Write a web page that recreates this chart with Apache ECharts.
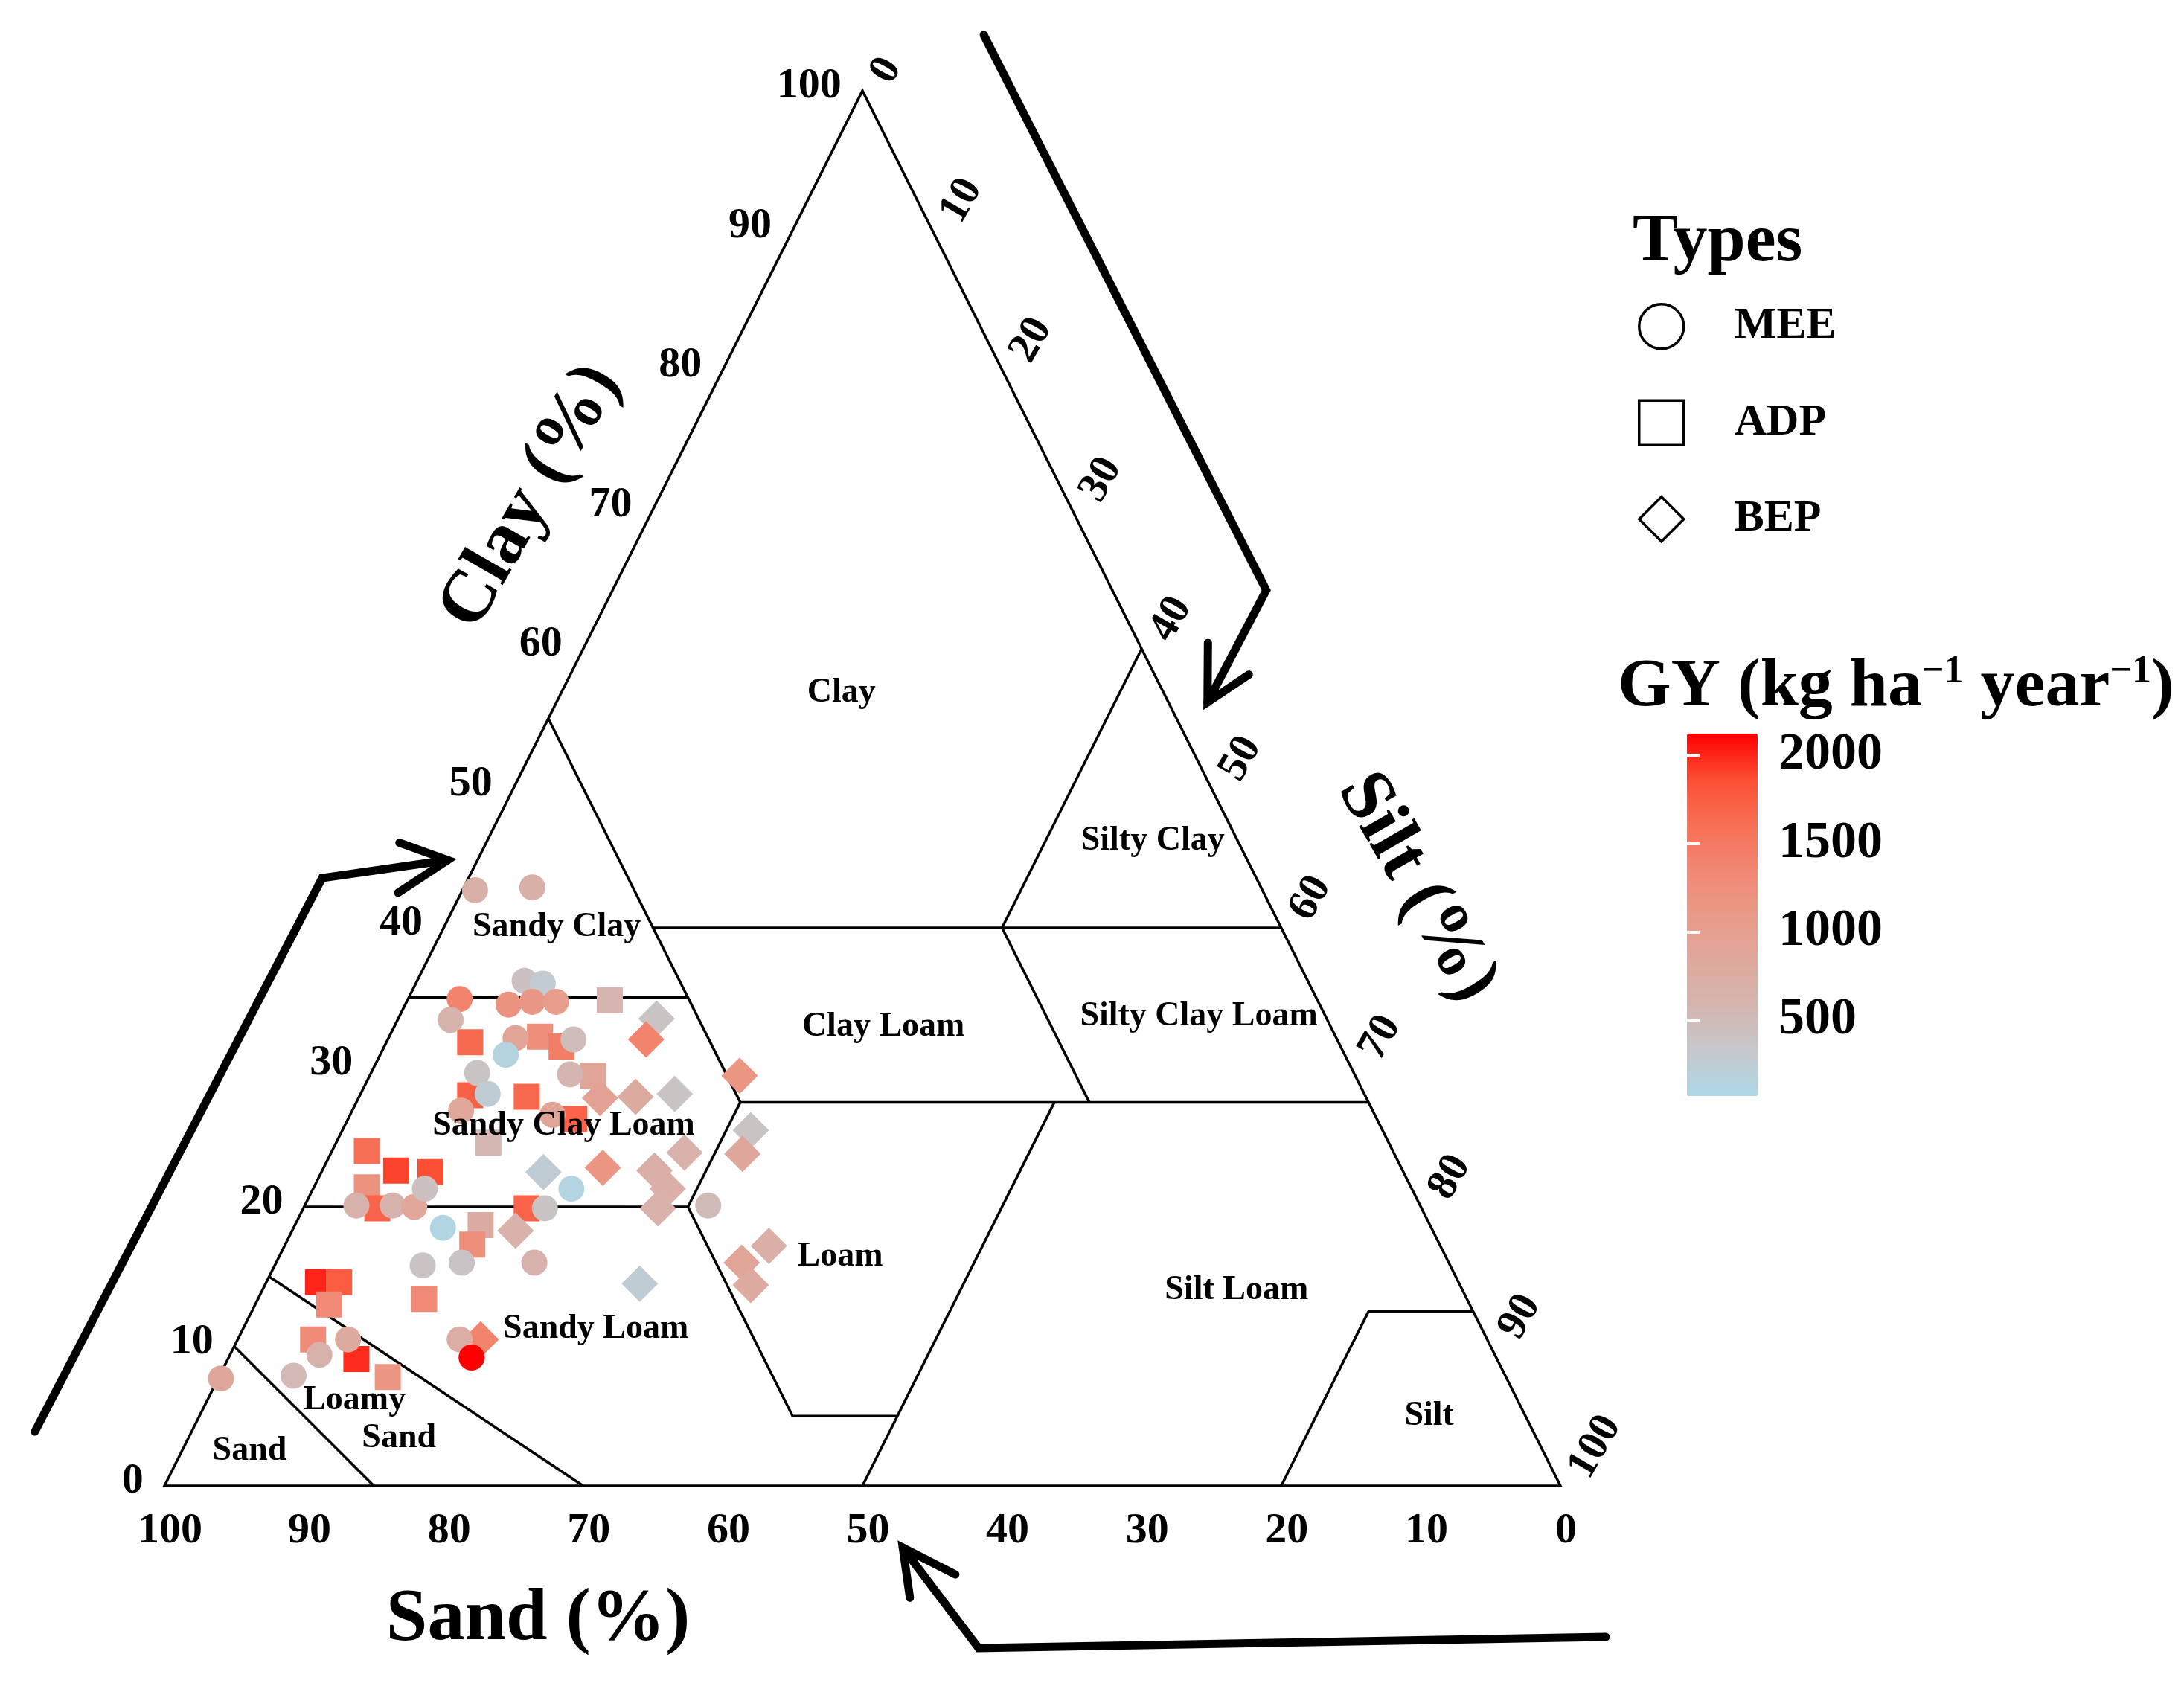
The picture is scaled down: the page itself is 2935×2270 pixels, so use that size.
<!DOCTYPE html>
<html><head><meta charset="utf-8">
<script src="https://cdn.jsdelivr.net/npm/echarts@6/dist/echarts.min.js"></script>
<style>html,body{margin:0;padding:0;background:#fff}#c{width:2935px;height:2270px}</style>
</head><body><div id="c"></div>
<script>
// ---------------- data ----------------
const ticks = [0,10,20,30,40,50,60,70,80,90,100];
const colorbarTicks = [500,1000,1500,2000];
const gyRange = [69, 2123];
// points: [sand %, clay %, GY kg ha-1 yr-1]
const MEE = [
 [56.4,42.7,680],[52.2,42.9,690],[56.1,36.2,420],[54.9,36.0,280],[61.4,34.9,1400],[62.8,33.4,620],
 [58.1,34.5,1200],[56.3,34.7,1130],[54.6,34.7,1050],[58.8,32.1,900],[54.7,32.0,480],[60.1,30.9,150],
 [62.8,29.6,400],[62.8,28.1,260],[56.2,29.5,580],[65.3,26.9,860],[58.9,26.6,900],
 [60.2,21.3,120],[51.0,20.1,500],[62.8,19.9,400],[70.8,18.5,110],[70.7,16.0,390],[65.5,16.0,640],
 [73.6,10.5,750],[73.4,9.2,2123],
 [76.2,20.1,640],[73.6,20.1,620],[72.1,20.0,860],[70.7,21.3,440],[73.6,15.8,410],[84.2,9.4,640],
 [81.6,10.5,800],[86.8,7.9,540],[92.1,7.7,850]
];
const ADP = [
 [50.7,34.8,600],[62.2,31.8,1650],[57.0,32.2,1250],[55.8,31.5,1450],[64.1,28.0,1720],[60.1,27.9,1650],
 [54.6,29.4,900],[57.5,26.3,1700],[64.5,24.6,560],
 [64.1,19.9,1700],[68.0,18.7,760],[69.3,17.3,1250],
 [73.5,24.0,1600],[72.1,22.6,1900],[69.7,22.5,1850],[74.8,21.4,1200],[74.8,19.9,1700],[74.7,13.4,1330],
 [81.7,14.6,2000],[80.2,14.6,1750],[81.7,13.0,1330],[84.1,10.5,1300],[81.7,9.1,1980],[80.1,7.8,1150]
];
const BEP = [
 [48.0,33.5,400],[49.5,32.0,1400],[54.9,27.8,950],[52.3,27.9,800],[49.4,28.1,400],[44.1,29.4,1150],
 [45.25,25.5,400],
 [46.7,23.8,850],[61.6,22.5,260],[57.2,22.8,1150],[53.6,22.6,700],[50.8,23.9,650],[53.3,21.3,700],
 [54.7,19.9,650],[65.7,18.3,650],[58.7,14.5,260],[72.1,10.5,1400],[48.1,17.2,700],[50.65,16.0,900],
 [50.8,14.4,800]
];
// texture class boundaries, as [sand, clay] vertices
const boundaries = [
 [[100,0],[0,100],[0,0],[100,0],[0,100]],
 [[85,0],[90,10]],
 [[70,0],[85,15]],
 [[80,20],[52.5,20]],
 [[52.5,20],[52.5,5],[45,5]],
 [[50,0],[22.5,27.5]],
 [[52.5,20],[45,27.5]],
 [[45,27.5],[0,27.5]],
 [[65,35],[45,35]],
 [[45,27.5],[45,55]],
 [[45,40],[0,40]],
 [[20,27.5],[20,40]],
 [[20,40],[0,60]],
 [[20,0],[7.5,12.5]],
 [[7.5,12.5],[0,12.5]]
];
const classNames = ['Clay','Silty Clay','Sandy Clay','Clay Loam','Silty Clay Loam','Sandy Clay Loam',
 'Loam','Silt Loam','Sandy Loam','Loamy','Sand','Sand','Silt'];

// ---------------- layout (not data) ----------------
const SERIF = '"Liberation Serif", "Times New Roman", serif';
const classLabelPos = [[48.5,56.8],[70.8,46.2],[28.1,40.0],[51.5,32.9],[74.1,33.6],[28.6,25.8],
 [48.4,16.4],[76.8,14.0],[30.9,11.2],[13.6,6.1],[16.8,3.4],[6.1,2.5],[90.6,5.0]];
const arrowShafts = [
 [[-9.28,3.89],[11.30,43.57],[20.29,44.85]],
 [[58.69,104.0],[78.93,64.2],[74.72,56.16]],
 [[103.25,-10.83],[58.32,-11.63],[52.89,-4.43]]
];
const arrowHeads = [
 [[16.83,46.10],[20.29,44.85],[16.74,42.51]],
 [[74.75,60.43],[74.72,56.16],[77.68,58.15]],
 [[53.40,-8.02],[52.89,-4.43],[56.66,-6.35]]
];

// ternary (sand, clay) -> cartesian (x, clay)
function toXY(sand, clay){ return [100 - sand - clay/2, clay]; }
const pts = arr => arr.map(d => [...toXY(d[0], d[1]), d[2]]);

const chart = echarts.init(document.getElementById('c'));
const txt = {color:'#000', fontFamily:SERIF, fontWeight:'bold', textBorderWidth:0, textShadowBlur:0};
function labelSeries(name, data, label){
  return {type:'scatter', name, symbolSize:1, silent:true, clip:false, z:6,
    itemStyle:{color:'rgba(0,0,0,0)'}, data, emphasis:{disabled:true},
    label:Object.assign({show:true, position:'top', distance:0, formatter:'{b}', opacity:1}, txt, label)};
}
const ptStyle = {opacity:1};
const tickStyle = {show:true, inside:true, length:17, lineStyle:{color:'#fff', width:4}, customValues:colorbarTicks};

const option = {
  animation:false,
  backgroundColor:'#fff',
  grid:[
    {left:221, top:122, width:1876, height:1875, outerBoundsMode:'none'},
    {left:2267, top:986, width:95, height:487, outerBoundsMode:'none'}
  ],
  xAxis:[
    {type:'value', gridIndex:0, min:0, max:100, show:false},
    {type:'value', gridIndex:1, min:0, max:1, show:false}
  ],
  yAxis:[
    {type:'value', gridIndex:0, min:0, max:100, show:false},
    {type:'value', gridIndex:1, min:gyRange[0], max:gyRange[1], position:'right', z:10,
      axisLine:{show:false}, splitLine:{show:false}, axisTick:tickStyle,
      axisLabel:Object.assign({customValues:colorbarTicks, margin:28, fontSize:70, formatter:v => String(v)}, txt)},
    {type:'value', gridIndex:1, min:gyRange[0], max:gyRange[1], position:'left', z:10,
      axisLine:{show:false}, splitLine:{show:false}, axisTick:tickStyle, axisLabel:{show:false}}
  ],
  visualMap:{
    type:'continuous', min:gyRange[0], max:gyRange[1], dimension:2, seriesIndex:[2,3,4],
    left:2267, top:986, itemWidth:95, itemHeight:487, padding:0, calculable:false, hoverLink:false,
    inRange:{color:['#add8e6','#c6c8cc','#d5b5b0','#dfa89c','#e99b89','#f18773','#f76f55','#fc4e33','#ff0000']}
  },
  legend:{
    orient:'vertical', left:2196, top:402, itemWidth:60, itemHeight:60, itemGap:66, selectedMode:false,
    textStyle:Object.assign({fontSize:60, padding:[0,0,0,63]}, txt),
    data:[
      {name:'MEE', icon:'circle', itemStyle:{color:'rgba(0,0,0,0)', borderColor:'#000', borderWidth:3.5}},
      {name:'ADP', icon:'rect', itemStyle:{color:'rgba(0,0,0,0)', borderColor:'#000', borderWidth:3.5}},
      {name:'BEP', icon:'diamond', itemStyle:{color:'rgba(0,0,0,0)', borderColor:'#000', borderWidth:3.5}}
    ]
  },
  graphic:[
    {type:'text', x:2194, y:326, style:{text:'Types', fontSize:92, fontFamily:SERIF, fontWeight:'bold', fill:'#000', align:'left', verticalAlign:'middle'}},
    {type:'text', x:2174, y:924, style:{
      text:'{m|GY (kg ha}{s|−1}{m| year}{s|−1}{m|)}', align:'left', verticalAlign:'middle', fill:'#000',
      fontFamily:SERIF, fontWeight:'bold', fontSize:92,
      rich:{m:{fontSize:92, lineHeight:92, fontFamily:SERIF, fontWeight:'bold', fill:'#000'},
            s:{fontSize:52, lineHeight:52, verticalAlign:'top', fontFamily:SERIF, fontWeight:'bold', fill:'#000'}}}},
    {type:'text', x:723, y:2177, style:{text:'Sand (%)', fontSize:100, fontFamily:SERIF, fontWeight:'bold', fill:'#000', align:'center', verticalAlign:'middle'}},
    {type:'text', x:714, y:668, rotation:Math.PI/3, style:{text:'Clay (%)', fontSize:100, fontFamily:SERIF, fontWeight:'bold', fill:'#000', align:'center', verticalAlign:'middle'}},
    {type:'text', x:1904, y:1193, rotation:-Math.PI/3, style:{text:'Silt (%)', fontSize:100, fontFamily:SERIF, fontWeight:'bold', fill:'#000', align:'center', verticalAlign:'middle'}}
  ],
  series:[
    {type:'lines', name:'boundaries', coordinateSystem:'cartesian2d', polyline:true, silent:true, clip:false, z:1,
      lineStyle:{color:'#000', width:3.5, opacity:1, join:'miter'},
      data:boundaries.map(seg => ({coords:seg.map(p => toXY(p[0], p[1]))}))},
    {type:'lines', name:'arrows', coordinateSystem:'cartesian2d', polyline:true, silent:true, clip:false, z:2,
      lineStyle:{color:'#000', width:11, opacity:1, cap:'round', join:'miter'},
      data:arrowShafts.concat(arrowHeads).map(c => ({coords:c}))},
    {type:'scatter', name:'ADP', symbol:'rect', symbolSize:35, z:3, itemStyle:ptStyle, data:pts(ADP)},
    {type:'scatter', name:'BEP', symbol:'diamond', symbolSize:49, z:3, itemStyle:ptStyle, data:pts(BEP)},
    {type:'scatter', name:'MEE', symbol:'circle', symbolSize:35, z:3, itemStyle:ptStyle, data:pts(MEE)},
    labelSeries('classes', classNames.map((n,i) => ({name:n, value:classLabelPos[i]})),
      {fontSize:46, align:'center', verticalAlign:'middle'}),
    labelSeries('clayTicks', ticks.map(c => ({name:String(c), value:[c/2 - 1.5, c + 0.27]})),
      {fontSize:58, align:'right', verticalAlign:'middle'}),
    labelSeries('sandTicks', ticks.map(s => ({name:String(s), value:[100 - s + 0.4, -3.3]})),
      {fontSize:58, align:'center', verticalAlign:'middle'}),
    labelSeries('siltTicks', ticks.map(t => ({name:String(t), value:[50 + t/2 + 1.33, 100 - t + 0.75]})),
      {fontSize:58, align:'left', verticalAlign:'middle', rotate:60}),
    {type:'scatter', name:'cbDummy', xAxisIndex:1, yAxisIndex:1, data:[]}
  ]
};
chart.setOption(option);
</script>
</body></html>
